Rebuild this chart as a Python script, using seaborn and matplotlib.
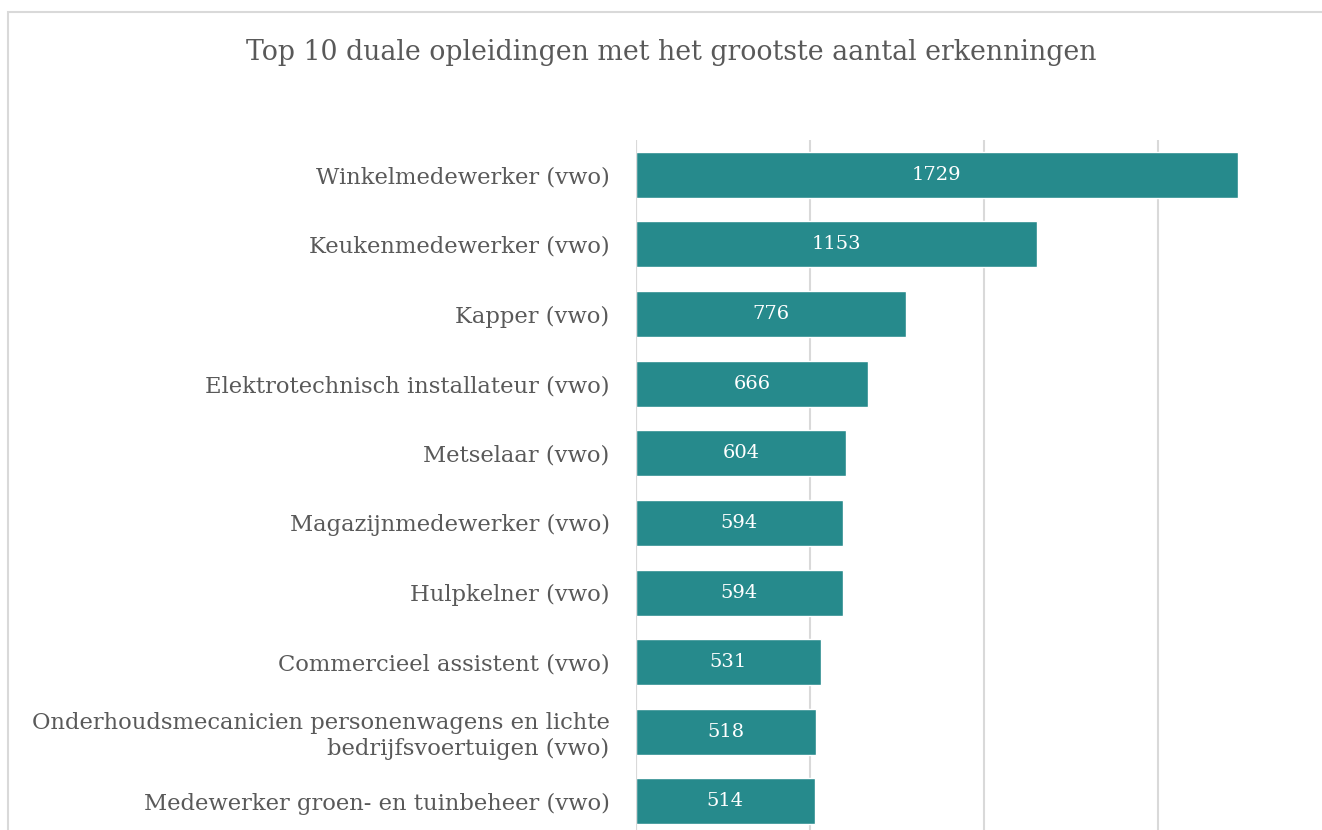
import matplotlib
matplotlib.use('Agg')
import matplotlib.pyplot as plt
import seaborn as sns
import pandas as pd
from matplotlib.patches import Rectangle

opleidingen = [
    'Winkelmedewerker (vwo)',
    'Keukenmedewerker (vwo)',
    'Kapper (vwo)',
    'Elektrotechnisch installateur (vwo)',
    'Metselaar (vwo)',
    'Magazijnmedewerker (vwo)',
    'Hulpkelner (vwo)',
    'Commercieel assistent (vwo)',
    'Onderhoudsmecanicien personenwagens en lichte\nbedrijfsvoertuigen (vwo)',
    'Medewerker groen- en tuinbeheer (vwo)',
]
erkenningen = [1729, 1153, 776, 666, 604, 594, 594, 531, 518, 514]

df = pd.DataFrame({'opleiding': opleidingen, 'erkenningen': erkenningen})

sns.set_style('white')
plt.rcParams['font.family'] = ['DejaVu Serif', 'DejaVu Sans']
grey = '#595959'
teal = '#268a8c'

fig = plt.figure(figsize=(13.22, 8.3), dpi=100)
ax = fig.add_axes([636 / 1322, 0, 1 - 636 / 1322, 1 - 140 / 830])

sns.barplot(data=df, x='erkenningen', y='opleiding', orient='h', color=teal,
            saturation=1, width=0.66, ax=ax, zorder=3)

for p, v in zip(ax.patches, erkenningen):
    ax.text(p.get_x() + p.get_width() / 2, p.get_y() + p.get_height() / 2, str(v),
            ha='center', va='center', color='white', fontsize=14, zorder=4)

ax.set_xlim(0, (1322 - 636) / 0.348)
ax.set_ylim(9.41, -0.5)
ax.set_xticks([0, 500, 1000, 1500])
ax.xaxis.grid(True, color='#d9d9d9', linewidth=1.5, zorder=0)
ax.axvline(0, color='#d9d9d9', linewidth=1.5, zorder=5)
ax.tick_params(axis='x', length=0, labelbottom=False)
ax.tick_params(axis='y', length=0, pad=19, labelsize=16.3, labelcolor=grey)
for s in ax.spines.values():
    s.set_visible(False)
ax.set_xlabel('')
ax.set_ylabel('')

fig.text(671 / 1322, 1 - 52 / 830, 'Top 10 duale opleidingen met het grootste aantal erkenningen',
         ha='center', va='center', fontsize=19.3, color=grey)

fig.patches.append(Rectangle((8 / 1322, -0.1), 1.2, 1 - 12 / 830 + 0.1,
                             transform=fig.transFigure, fill=False,
                             edgecolor='#d9d9d9', linewidth=1.5, zorder=0))

fig.savefig('out.png', dpi=100)
